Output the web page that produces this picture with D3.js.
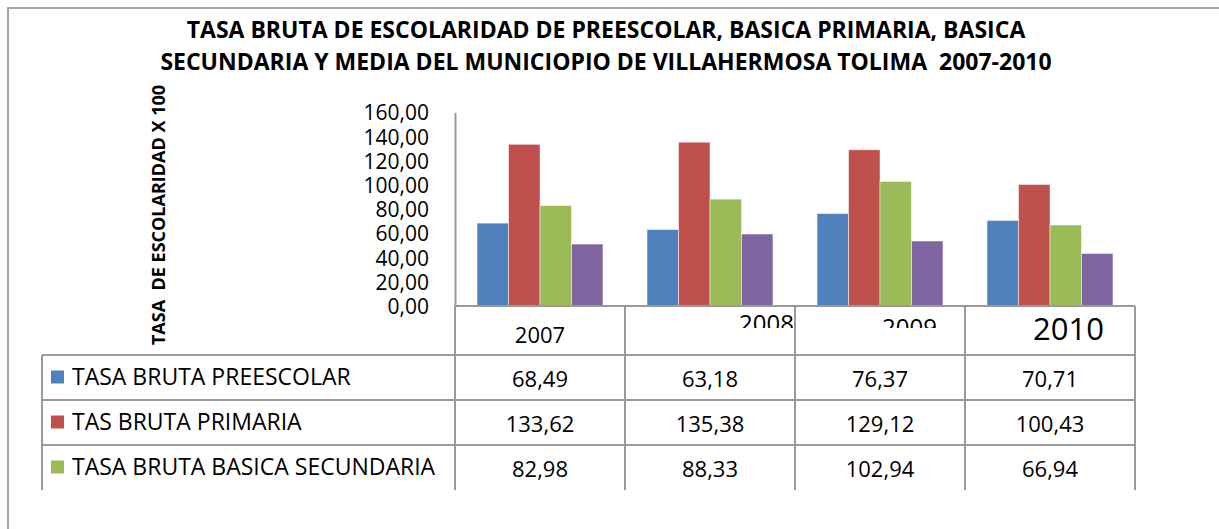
<!doctype html>
<html lang='es'>
  <head>
    <meta charset='utf-8' />
    <style>
      * { padding: 0; margin: 0; }
      body { background: #fff; }
      svg { display: block; font-family: 'Open Sans', 'Noto Sans', sans-serif; }
    </style>
    <title>Tasa bruta de escolaridad</title>
  </head>
  <body>
    <div id='container'></div>
    <script src='https://d3js.org/d3.v7.min.js'></script>
    <script type='text/javascript'>

      // data
      var years = ['2007', '2008', '2009', '2010'];
      var seriesNames = ['TASA BRUTA PREESCOLAR', 'TAS BRUTA PRIMARIA', 'TASA BRUTA BASICA SECUNDARIA', 'TASA BRUTA MEDIA'];
      var preescolar = [68.49, 63.18, 76.37, 70.71];
      var primaria = [133.62, 135.38, 129.12, 100.43];
      var secundaria = [82.98, 88.33, 102.94, 66.94];
      var media = [51.2, 59.5, 53.7, 43.4];   // not in the table, estimated from bars
      var yTicks = [0, 20, 40, 60, 80, 100, 120, 140, 160];
      var colors = ['#4F81BD', '#C0504D', '#9BBB59', '#8064A2'];

      var values = [preescolar, primaria, secundaria, media];
      var tableRows = 3;   // the data table only shows the first three series

      const W = 1219, H = 529;
      const plotLeft = 455, plotRight = 1135, plotTop = 112.4, plotBottom = 306;
      const headerBottom = 355, rowH = 45, tableLeft = 42;
      const gridColor = '#9a9a9a';

      var svg = d3.select('#container').append('svg')
          .attr('width', W)
          .attr('height', H);

      svg.append('rect').attr('width', W).attr('height', H).attr('fill', '#fff');

      // outer frame
      svg.append('path')
        .attr('d', 'M8,' + H + 'V8H' + W)
        .attr('fill', 'none')
        .attr('stroke', '#a6a6a6')
        .attr('stroke-width', 2);

      // title
      var title = svg.append('text')
        .attr('text-anchor', 'middle')
        .attr('font-weight', 700)
        .attr('font-size', 23)
        .attr('fill', '#000');
      title.append('tspan').attr('x', 606).attr('y', 38)
        .text('TASA BRUTA DE ESCOLARIDAD DE PREESCOLAR, BASICA PRIMARIA, BASICA');
      title.append('tspan').attr('x', 606).attr('y', 70)
        .text('SECUNDARIA Y MEDIA DEL MUNICIOPIO DE VILLAHERMOSA TOLIMA  2007-2010')
        .style('white-space', 'pre');

      var x = d3.scaleBand().domain(years).range([plotLeft, plotRight]);
      var xs = d3.scaleBand().domain(d3.range(values.length))
        .range([0, x.bandwidth()]).paddingInner(0).paddingOuter(0.7);
      var y = d3.scaleLinear().domain([0, 160]).range([plotBottom, plotTop]);

      var loc = d3.formatLocale({ decimal: ',', thousands: '.', grouping: [3], currency: ['$', ''] });
      var fmt = loc.format('.2f');

      // y axis
      var yAxis = svg.append('g')
        .attr('transform', 'translate(' + plotLeft + ',0)')
        .call(d3.axisLeft(y).tickValues(yTicks).tickFormat(fmt).tickSize(0).tickPadding(26));
      yAxis.select('.domain').attr('stroke', gridColor).attr('stroke-width', 2);
      yAxis.selectAll('text')
        .attr('font-family', "'Open Sans', sans-serif")
        .attr('font-size', 21)
        .attr('fill', '#000')
        .attr('dy', '0.36em');

      // axis title
      svg.append('text')
        .attr('transform', 'translate(165,215) rotate(-90)')
        .attr('text-anchor', 'middle')
        .attr('font-weight', 700)
        .attr('font-size', 18)
        .style('white-space', 'pre')
        .text('TASA  DE ESCOLARIDAD X 100');

      // bars
      var groups = svg.selectAll('g.year')
        .data(years)
        .enter().append('g')
        .attr('class', 'year')
        .attr('transform', function(d) { return 'translate(' + x(d) + ',0)'; });

      groups.selectAll('rect')
        .data(function(d, i) { return values.map(function(s, j) { return { s: j, v: s[i] }; }); })
        .enter().append('rect')
        .attr('x', function(d) { return xs(d.s); })
        .attr('y', function(d) { return y(d.v); })
        .attr('width', xs.bandwidth())
        .attr('height', function(d) { return y(0) - y(d.v); })
        .attr('fill', function(d) { return colors[d.s]; })
        .attr('stroke', 'rgba(255,255,255,0.6)')
        .attr('stroke-width', 0.8);

      // data table grid
      var grid = svg.append('g').attr('stroke', gridColor).attr('stroke-width', 2);
      var tableBottom = headerBottom + rowH * tableRows;
      grid.append('line').attr('x1', plotLeft).attr('x2', plotRight).attr('y1', plotBottom).attr('y2', plotBottom);
      d3.range(tableRows).forEach(function(r) {
        var yy = headerBottom + r * rowH;
        grid.append('line').attr('x1', tableLeft).attr('x2', plotRight).attr('y1', yy).attr('y2', yy);
      });
      grid.append('line').attr('x1', tableLeft).attr('x2', tableLeft).attr('y1', headerBottom).attr('y2', tableBottom);
      years.concat(['end']).forEach(function(d, i) {
        var xx = plotLeft + i * x.step();
        grid.append('line').attr('x1', xx).attr('x2', xx).attr('y1', plotBottom).attr('y2', tableBottom);
      });

      // year header labels (the reference renders some of them clipped)
      var headerStyle = [
        { dx: 0, anchor: 'middle', size: 22, base: 343, clip: null },
        { dx: 114, anchor: 'start', size: 24, base: 332, clip: 328 },
        { dx: 87, anchor: 'start', size: 24, base: 336, clip: 328 },
        { dx: 68, anchor: 'start', size: 31, base: 340, clip: null }
      ];
      var defs = svg.append('defs');
      years.forEach(function(d, i) {
        var hs = headerStyle[i];
        var t = svg.append('text')
          .attr('x', hs.anchor === 'middle' ? x(d) + x.bandwidth() / 2 : x(d) + hs.dx)
          .attr('y', hs.base)
          .attr('text-anchor', hs.anchor)
          .attr('font-size', hs.size)
          .attr('fill', '#000')
          .text(d);
        if (hs.clip) {
          defs.append('clipPath').attr('id', 'clip' + i)
            .append('rect')
            .attr('x', x(d)).attr('y', plotBottom)
            .attr('width', x.bandwidth()).attr('height', hs.clip - plotBottom);
          t.attr('clip-path', 'url(#clip' + i + ')');
        }
      });

      // table rows: legend key + values
      d3.range(tableRows).forEach(function(r) {
        var cy = headerBottom + r * rowH + rowH / 2;
        svg.append('rect')
          .attr('x', 51).attr('y', cy - 7)
          .attr('width', 13).attr('height', 13)
          .attr('fill', colors[r]);
        svg.append('text')
          .attr('x', 72).attr('y', cy - 1)
          .attr('dy', '0.36em')
          .attr('font-size', 23)
          .attr('fill', '#000')
          .text(seriesNames[r]);
        svg.selectAll(null)
          .data(values[r])
          .enter().append('text')
          .attr('x', function(d, i) { return x(years[i]) + x.bandwidth() / 2; })
          .attr('y', cy + 2)
          .attr('dy', '0.36em')
          .attr('text-anchor', 'middle')
          .attr('font-size', 22)
          .attr('fill', '#000')
          .text(function(d) { return fmt(d); });
      });
    </script>
  </body>
</html>
